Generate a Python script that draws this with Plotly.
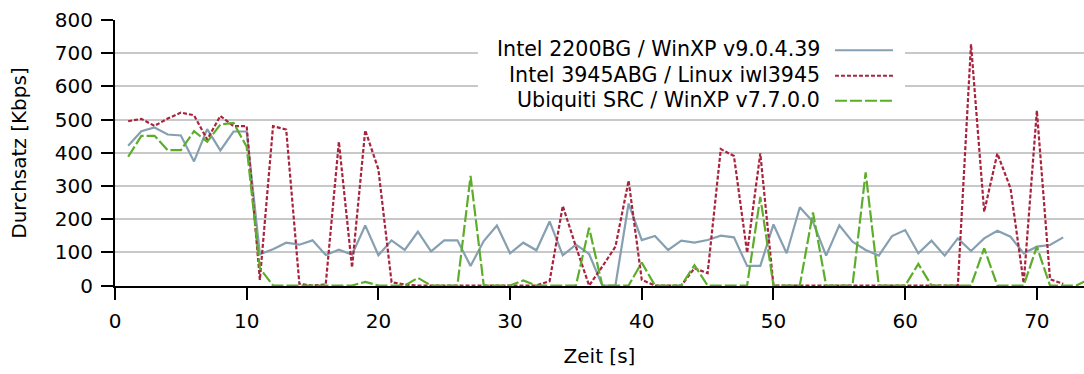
import plotly.graph_objects as go

# ---- data ----
t_intel2200 = list(range(1, 73))
intel2200 = [421, 465, 476, 455, 452, 374, 471, 407, 464, 464,
             94, 109, 129, 123, 136, 92, 108, 93, 181, 91,
             136, 107, 162, 103, 136, 136, 59, 134, 181, 97,
             129, 106, 193, 91, 123, 95, 0, 0, 247, 137,
             149, 107, 135, 129, 137, 150, 145, 59, 59, 184,
             97, 236, 192, 90, 181, 132, 107, 90, 149, 167,
             97, 135, 90, 142, 104, 142, 165, 147, 97, 117,
             122, 145]

t_intel3945 = list(range(1, 73))
intel3945 = [495, 502, 481, 503, 521, 513, 440, 511, 480, 480,
             17, 480, 470, 5, 0, 3, 433, 54, 468, 350,
             10, 3, 0, 0, 0, 0, 0, 0, 0, 0,
             0, 0, 13, 240, 117, 0, 57, 117, 316, 17,
             0, 0, 0, 52, 37, 411, 390, 99, 398, 0,
             0, 0, 0, 0, 0, 0, 0, 0, 0, 0,
             0, 0, 0, 0, 727, 222, 398, 293, 7, 527,
             19, 5]

t_ubiquiti = list(range(1, 75))
ubiquiti = [388, 451, 451, 408, 408, 465, 433, 485, 490, 418,
            52, 0, 0, 0, 0, 0, 0, 0, 11, 0,
            0, 0, 23, 0, 0, 0, 330, 0, 0, 0,
            15, 0, 0, 0, 0, 174, 0, 0, 0, 69,
            0, 0, 0, 61, 0, 0, 0, 0, 267, 0,
            0, 0, 220, 0, 0, 0, 341, 0, 0, 0,
            65, 0, 0, 0, 0, 112, 0, 0, 0, 117,
            0, 0, 0, 20]

names = ["Intel 2200BG / WinXP v9.0.4.39",
         "Intel 3945ABG / Linux iwl3945",
         "Ubiquiti SRC / WinXP v7.7.0.0"]
colors = ["#86a0b2", "#a8243e", "#5cad2a"]
dashes = ["solid", "4px,2px", "12px,3px"]

x_ticks = [0, 10, 20, 30, 40, 50, 60, 70]
y_ticks = [0, 100, 200, 300, 400, 500, 600, 700, 800]

FONT = "DejaVu Sans"

fig = go.Figure()
for tx, ty, nm, c, d in zip([t_intel2200, t_intel3945, t_ubiquiti],
                            [intel2200, intel3945, ubiquiti],
                            names, colors, dashes):
    fig.add_trace(go.Scatter(x=tx, y=ty, mode="lines", name=nm,
                             line=dict(color=c, width=2.2, dash=d),
                             showlegend=False))

# manual legend (text right-aligned, sample on the right, gnuplot style)
shapes = [dict(type="rect", xref="paper", yref="paper",
               x0=0.3746, x1=0.8153, y0=0.66, y1=0.962,
               fillcolor="white", line=dict(width=0), layer="above")]
annotations = []
row_y = [0.890, 0.794, 0.700]
for nm, c, d, yy in zip(names, colors, dashes, row_y):
    annotations.append(dict(xref="paper", yref="paper", x=0.7296, y=yy,
                            xanchor="right", yanchor="middle", text=nm,
                            showarrow=False,
                            font=dict(family=FONT, size=20.6, color="black")))
    shapes.append(dict(type="line", xref="paper", yref="paper",
                       x0=0.743, x1=0.8029, y0=yy - 0.004, y1=yy - 0.004,
                       line=dict(color=c, width=2, dash=d), layer="above"))

fig.update_layout(
    width=1084, height=374,
    margin=dict(l=115, r=0, t=20, b=88),
    paper_bgcolor="white", plot_bgcolor="white",
    font=dict(family=FONT, size=20, color="black"),
    shapes=shapes, annotations=annotations,
    xaxis=dict(range=[0, 73.58], tickvals=x_ticks, ticktext=[str(v) for v in x_ticks],
               showgrid=False, zeroline=False, showline=True,
               linecolor="black", linewidth=2, ticks="outside",
               ticklen=12, tickwidth=2, tickcolor="black",
               ticklabelstandoff=4, layer="below traces",
               title=dict(text="Zeit [s]", standoff=17,
                          font=dict(family=FONT, size=20))),
    yaxis=dict(range=[-1.5, 800], tickvals=y_ticks, ticktext=[str(v) for v in y_ticks],
               showgrid=True, gridcolor="#c8c8c8", gridwidth=2,
               zeroline=False, showline=True,
               linecolor="black", linewidth=2, ticks="outside",
               ticklen=12, tickwidth=2, tickcolor="black",
               ticklabelstandoff=4, layer="below traces",
               title=dict(text="Durchsatz [Kbps]", standoff=23,
                          font=dict(family=FONT, size=20))),
)

fig.write_html("out.html")
